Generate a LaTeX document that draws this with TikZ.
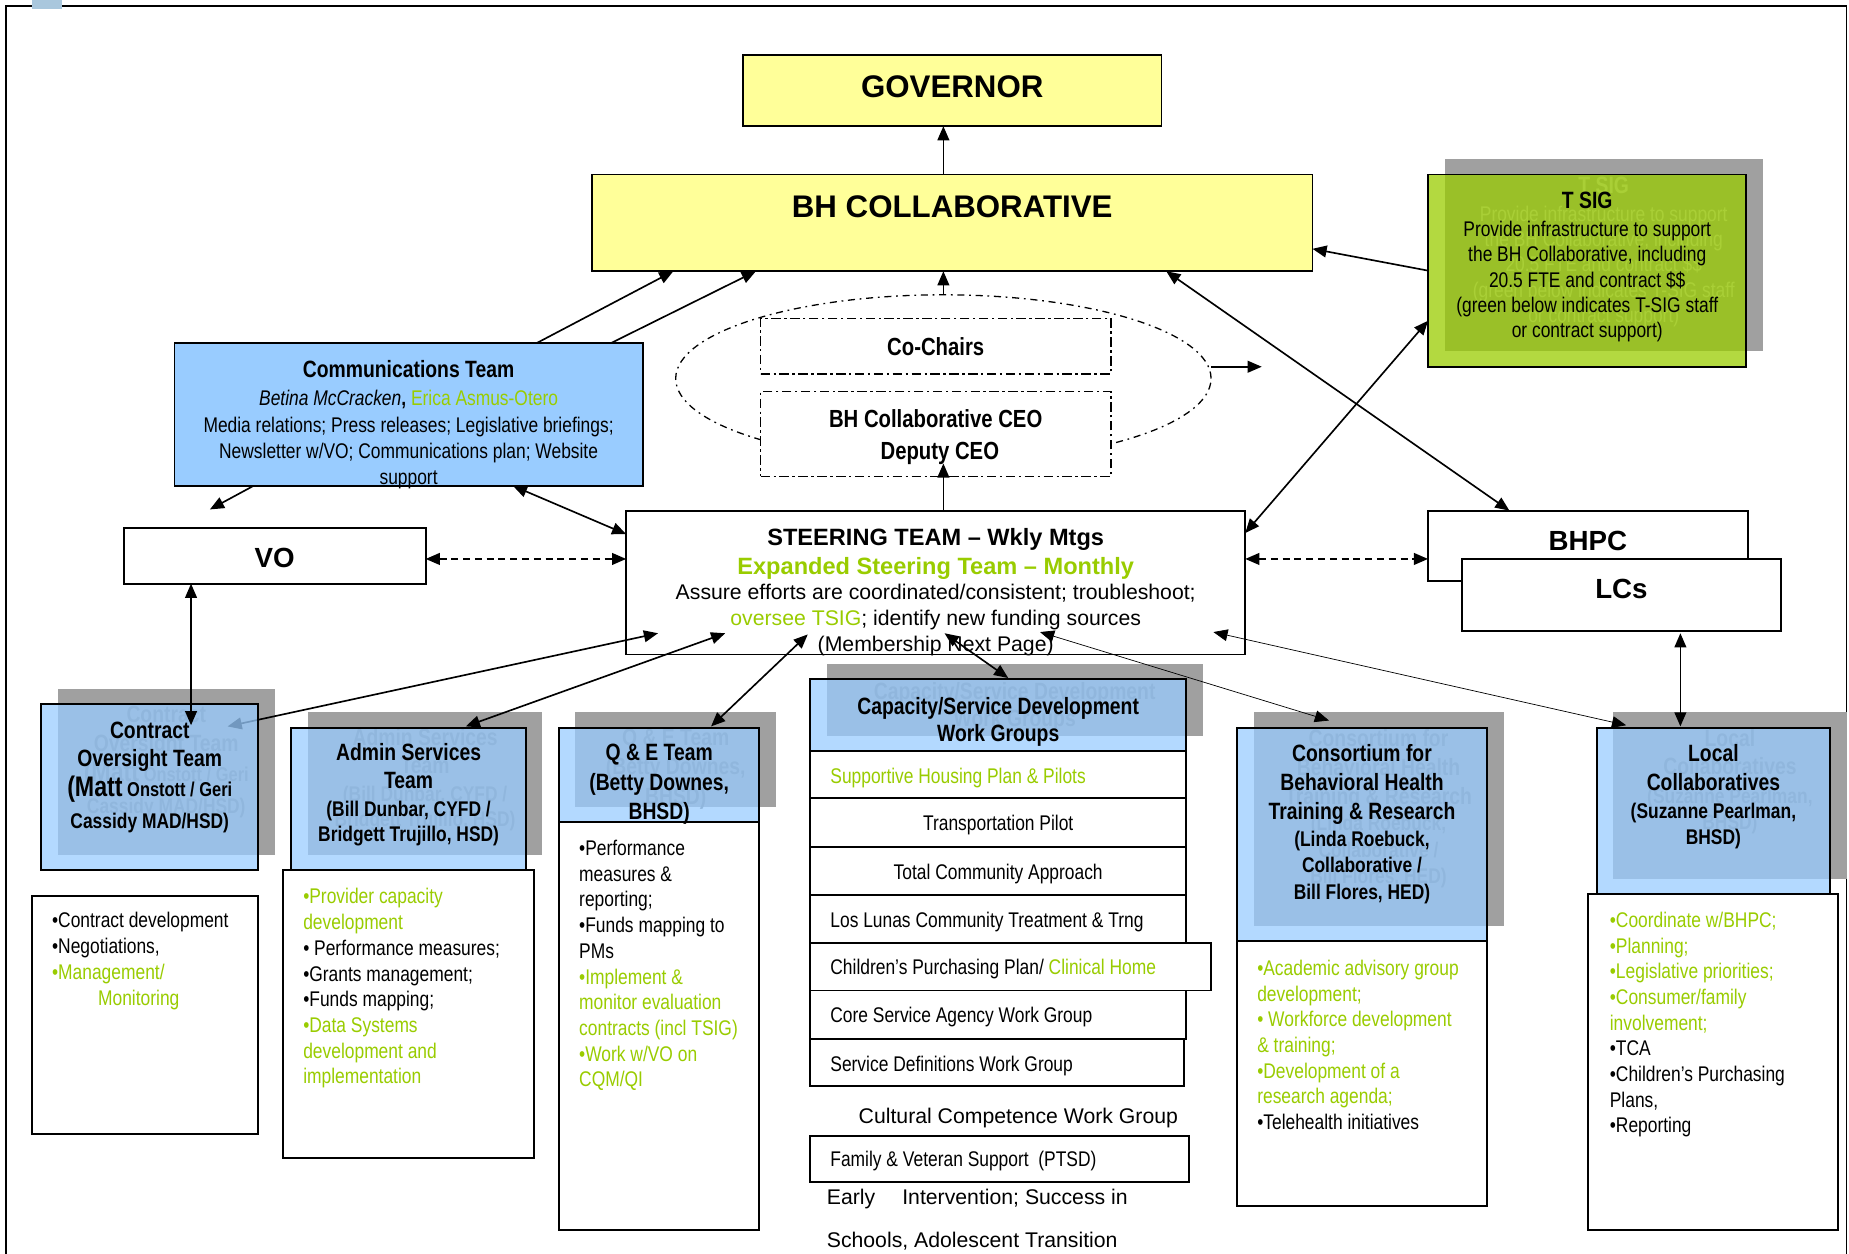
\documentclass[tikz,border=0pt]{standalone}
\usepackage{fontspec}
\setmainfont{Liberation Sans}
\newfontfamily\nar{Liberation Sans}[FakeStretch=0.82]
\usetikzlibrary{arrows.meta,shapes.geometric}
\definecolor{yel}{HTML}{FFFF99}
\definecolor{blu}{HTML}{99CCFF}
\definecolor{grn}{HTML}{99CC00}
\definecolor{shg}{HTML}{A0A0A0}
\definecolor{ghostA}{HTML}{787878}
\definecolor{ghostG}{HTML}{DADADA}
\definecolor{sqc}{HTML}{A9C7DD}
\newcommand\grcol{grn}
\newcommand\GRN[1]{\textcolor{\grcol}{#1}}
\newcommand\Lines[6]{\foreach \ltext [count=\lnum from 0] in {#6} \node[#1] (#2\lnum) at (#3,{#4+#5*\lnum}) {\ltext};}
\tikzset{
  nt/.style={font=\nar\fontsize{18}{21.6}\selectfont, inner sep=0, anchor=base},
  ntl/.style={nt, anchor=base west},
  hb/.style={font=\nar\bfseries\fontsize{20}{24}\selectfont, inner sep=0, anchor=base},
  pb/.style={font=\nar\bfseries\fontsize{18}{21.6}\selectfont, inner sep=0, anchor=base},
  cb/.style={font=\nar\bfseries\fontsize{21}{25}\selectfont, inner sep=0, anchor=base},
  ar/.style={font=\fontsize{18}{21.6}\selectfont, inner sep=0, anchor=base},
  arl/.style={ar, anchor=base west},
  arb/.style={font=\bfseries\fontsize{20}{24}\selectfont, inner sep=0, anchor=base},
  bigt/.style={font=\bfseries\fontsize{26.5}{30}\selectfont, inner sep=0, anchor=base},
  midt/.style={font=\bfseries\fontsize{23.5}{28}\selectfont, inner sep=0, anchor=base},
  box/.style={draw, line width=1.6pt, inner sep=0, outer sep=0, anchor=north west},
  shbox/.style={fill=shg, inner sep=0, outer sep=0, anchor=north west},
  dashdot/.style={dash pattern=on 8pt off 3pt on 2pt off 3pt},
  ddot/.style={dash pattern=on 6pt off 4pt on 1.5pt off 4pt},
  arr/.style={-{Triangle[length=12pt,width=10pt]}, line width=1.4pt},
  darr/.style={{Triangle[length=12pt,width=10pt]}-{Triangle[length=12pt,width=10pt]}, line width=1.4pt},
  tdarr/.style={{Triangle[length=12pt,width=10pt]}-{Triangle[length=12pt,width=10pt]}, line width=0.6pt},
  ddarr/.style={darr, dash pattern=on 6pt off 4pt},
}
\newcommand\txtTsig{%
  \node[hb] (ts0) at (1346,177) {T SIG};
  \Lines{nt}{tsl}{1346}{200.5}{21.5}{{Provide infrastructure to support},{the BH Collaborative, including},{20.5 FTE and contract \$\$},{(green below indicates T-SIG staff},{or contract support)}}
}
\newcommand\txtCot{%
  \node[hb] (ct0) at (127,626) {Contract};
  \node[hb] (ct1) at (127,650) {Oversight Team};
  \node[pb] (ct2) at (127,675.5) {{\fontsize{24}{26}\selectfont(Matt}\fontsize{17}{20}\selectfont\ Onstott / Geri};
  \node[pb] (ct3) at (127,702.5) {Cassidy MAD/HSD)};
}
\newcommand\txtAdm{%
  \node[hb] (ad0) at (346.5,645) {Admin Services};
  \node[hb] (ad1) at (346.5,669) {Team};
  \node[pb] (ad2) at (346.5,692.5) {(Bill Dunbar, CYFD /};
  \node[pb] (ad3) at (346.5,713.5) {Bridgett Trujillo, HSD)};
}
\newcommand\txtQe{%
  \Lines{hb}{qt}{559}{645}{25}{{Q \& E Team},{(Betty Downes,},{BHSD)}}
}
\newcommand\txtCap{%
  \Lines{hb}{cpt}{846.5}{606}{23}{{Capacity/Service Development},{Work Groups}}
}
\newcommand\txtCons{%
  \Lines{hb}{cst}{1155}{646}{24.5}{{Consortium for},{Behavioral Health},{Training \& Research}}
  \Lines{pb}{csq}{1155}{717.5}{22.5}{{(Linda Roebuck,},{Collaborative /},{Bill Flores, HED)}}
}
\newcommand\txtLoc{%
  \Lines{hb}{lct}{1453}{646}{24}{{Local},{Collaboratives}}
  \Lines{pb}{lcq}{1453}{694.5}{22}{{(Suzanne Pearlman,},{BHSD)}}
}
\begin{document}
\begin{tikzpicture}[x=1pt,y=-1pt]
\useasboundingbox (0,0) rectangle (1568,1063.4);
\draw[line width=1.2pt] (5,1063.4) -- (5,5) -- (1566,5) -- (1566,1063.4);
\fill[sqc] (27,0) rectangle (53,8);

% ellipse behind the inner boxes
\node[ellipse, draw, ddot, line width=1.1pt, minimum width=454pt, minimum height=142pt, inner sep=0, outer sep=0] (ell) at (800,321) {};

% plain boxes
\node[box, fill=yel, minimum width=355pt, minimum height=60pt] (gov) at (630,47) {};
\node[box, fill=yel, minimum width=611pt, minimum height=82pt] (bhc) at (502,148) {};
\node[box, fill=blu, minimum width=397pt, minimum height=121pt] (comm) at (148,291) {};
\node[box, fill=white, minimum width=256pt, minimum height=47pt] (vo) at (105,448) {};
\node[box, fill=white, minimum width=525pt, minimum height=122pt] (st) at (531,433) {};
\node[box, fill=white, minimum width=271pt, minimum height=60pt] (bhpc) at (1211,433) {};
\node[box, fill=white, minimum width=270pt, minimum height=61pt] (lcs) at (1240,474) {};
\node[box, fill=white, dashdot, line width=1.3pt, minimum width=297pt, minimum height=47pt] (cochair) at (645,270) {};
\node[box, fill=white, dashdot, line width=1.3pt, minimum width=297pt, minimum height=72pt] (ceo) at (645,332) {};

% shadows
\node[shbox, minimum width=270pt, minimum height=163pt] (tsig-sh) at (1225,135) {};
\node[shbox, minimum width=184pt, minimum height=141pt] (cot-sh) at (49,584) {};
\node[shbox, minimum width=199pt, minimum height=121pt] (adm-sh) at (261,604) {};
\node[shbox, minimum width=170pt, minimum height=80pt] (qe-sh) at (488,604) {};
\node[shbox, minimum width=319pt, minimum height=61pt] (cap-sh) at (701,563) {};
\node[shbox, minimum width=212pt, minimum height=181pt] (cons-sh) at (1063,604) {};
\node[shbox, minimum width=198pt, minimum height=141pt] (loc-sh) at (1368,604) {};
\begin{scope}[shift={(14,-13)}, name prefix=g-, every node/.append style={text=ghostA}]
  \renewcommand\grcol{ghostA}
  \txtCot \txtAdm \txtQe \txtCap \txtCons \txtLoc
\end{scope}
\begin{scope}[shift={(14,-13)}, name prefix=g-, every node/.append style={text=ghostG}]
  \txtTsig
\end{scope}

% connector partly under the translucent box
\draw[darr] ([xshift=-40pt,yshift=-32pt]cot-sh.north east) -- ([xshift=27pt,yshift=18pt]st.south west);

% translucent boxes
\node[box, fill=grn, fill opacity=0.75, minimum width=270pt, minimum height=163pt] (tsig) at (1211,148) {};
\node[box, fill=blu, fill opacity=0.75, minimum width=184pt, minimum height=141pt] (cot) at (35,597) {};
\node[box, fill=blu, fill opacity=0.75, minimum width=199pt, minimum height=121pt] (adm) at (247,617) {};
\node[box, fill=blu, fill opacity=0.75, minimum width=170pt, minimum height=80pt] (qe) at (474,617) {};
\node[box, fill=blu, fill opacity=0.75, minimum width=319pt, minimum height=61pt] (cap) at (687,576) {};
\node[box, fill=blu, fill opacity=0.75, minimum width=212pt, minimum height=181pt] (cons) at (1049,617) {};
\node[box, fill=blu, fill opacity=0.75, minimum width=198pt, minimum height=141pt] (loc) at (1354,617) {};

% list boxes
\node[box, fill=white, minimum width=192pt, minimum height=202pt] (cotl) at (27,760) {};
\node[box, fill=white, minimum width=213pt, minimum height=244pt] (adml) at (240,738) {};
\node[box, fill=white, minimum width=170pt, minimum height=346pt] (qel) at (474,697) {};
\node[box, fill=white, minimum width=212pt, minimum height=225pt] (consl) at (1049,798) {};
\node[box, fill=white, minimum width=212pt, minimum height=285pt] (locl) at (1347,758) {};
\node[box, fill=white, minimum width=319pt, minimum height=40pt] (r1) at (687,637) {};
\node[box, fill=white, minimum width=319pt, minimum height=41pt] (r2) at (687,677) {};
\node[box, fill=white, minimum width=319pt, minimum height=41pt] (r3) at (687,718) {};
\node[box, fill=white, minimum width=319pt, minimum height=41pt] (r4) at (687,759) {};
\node[box, fill=white, minimum width=340pt, minimum height=40pt] (r5) at (687,800) {};
\node[box, fill=white, minimum width=319pt, minimum height=41pt] (r6) at (687,840) {};
\node[box, fill=white, minimum width=317pt, minimum height=40pt] (r7) at (687,881) {};
\node[box, fill=white, minimum width=321pt, minimum height=39pt] (r8) at (687,963) {};

% texts
\node[bigt] (govt) at (807.5,82.5) {GOVERNOR};
\node[bigt] (bhct) at (807.5,184.5) {BH COLLABORATIVE};
\node[midt] (vot) at (233,481.5) {VO};
\node[midt] (bhpct) at (1346.5,466.5) {BHPC};
\node[midt] (lcst) at (1375,507.5) {LCs};
\node[cb] (cocht) at (793.5,301.5) {Co-Chairs};
\node[cb] (ceot1) at (793.5,362.5) {BH Collaborative CEO};
\node[cb] (ceot2) at (797,389.5) {Deputy CEO};

\node[hb] (cmt0) at (346.5,320) {Communications Team};
\node[nt] (cmt1) at (346.5,343.5) {{\itshape Betina McCracken}{\bfseries,} \GRN{Erica Asmus-Otero}};
\Lines{nt}{cml}{346.5}{366.5}{22}{{Media relations; Press releases; Legislative briefings;},{Newsletter w/VO; Communications plan; Website},{support}}

\node[arb] (stt0) at (793.5,463) {STEERING TEAM – Wkly Mtgs};
\node[arb, text=grn] (stt1) at (793.5,487) {Expanded Steering Team – Monthly};
\node[ar] (stt2) at (793.5,508.5) {Assure efforts are coordinated/consistent; troubleshoot;};
\node[ar] (stt3) at (793.5,530.5) {\GRN{oversee TSIG}; identify new funding sources};
\node[ar] (stt4) at (793.5,552.5) {(Membership Next Page)};

\txtTsig \txtCot \txtAdm \txtQe \txtCap \txtCons \txtLoc

\Lines{ntl}{cotb}{44}{786.5}{22}{{•Contract development},{•Negotiations,},{\GRN{•Management/}}}
\node[ntl] (cotb3) at (83,852.5) {\GRN{Monitoring}};
\Lines{ntl}{admb}{257}{766.5}{21.8}{{\GRN{•Provider capacity}},{\GRN{development}},{• Performance measures;},{•Grants management;},{•Funds mapping;},{\GRN{•Data Systems}},{\GRN{development and}},{\GRN{implementation}}}
\Lines{ntl}{qeb}{491}{725.5}{21.8}{{•Performance},{measures \&},{reporting;},{•Funds mapping to},{PMs},{\GRN{•Implement \&}},{\GRN{monitor evaluation}},{\GRN{contracts (incl TSIG)}},{\GRN{•Work w/VO on}},{\GRN{CQM/QI}}}
\Lines{ntl}{csb}{1066}{827.5}{21.67}{{\GRN{•Academic advisory group}},{\GRN{development;}},{\GRN{• Workforce development}},{\GRN{\& training;}},{\GRN{•Development of a}},{\GRN{research agenda;}},{•Telehealth initiatives}}
\Lines{ntl}{lcb}{1365}{786.5}{21.75}{{\GRN{•Coordinate w/BHPC;}},{\GRN{•Planning;}},{\GRN{•Legislative priorities;}},{\GRN{•Consumer/family}},{\GRN{involvement;}},{•TCA},{•Children’s Purchasing},{Plans,},{•Reporting}}

\node[ntl] (r1t) at (704,664.5) {\GRN{Supportive Housing Plan \& Pilots}};
\node[nt] (r2t) at (846.5,704.5) {Transportation Pilot};
\node[nt] (r3t) at (846.5,745.5) {Total Community Approach};
\node[ntl] (r4t) at (704,786.5) {Los Lunas Community Treatment \& Trng};
\node[ntl] (r5t) at (704,826.5) {Children’s Purchasing Plan/ \GRN{Clinical Home}};
\node[ntl] (r6t) at (704,867.5) {Core Service Agency Work Group};
\node[ntl] (r7t) at (704,908.5) {Service Definitions Work Group};
\node[arl] (cct) at (728,952.5) {Cultural Competence Work Group};
\node[ntl] (r8t) at (704,989.5) {Family \& Veteran Support\ \ (PTSD)};
\node[arl] (eit) at (701,1021.5) {Early\hspace{23pt}Intervention; Success in};
\node[arl] (sct) at (701,1057.5) {Schools, Adolescent Transition};

% connectors
\draw[arr] ([xshift=-7.5pt]bhc.north) -- ([xshift=-7.5pt]gov.south);
\draw[arr] ([xshift=307pt]comm.north west) -- ([xshift=69pt]bhc.south west);
\draw[arr] ([xshift=370pt]comm.north west) -- ([xshift=139pt]bhc.south west);
\coordinate (cfree) at (178,432);
\draw[arr] ([xshift=67pt]comm.south west) -- (cfree);
\draw[darr] ([xshift=287pt]comm.south west) -- ([yshift=41pt]st.west);
\draw[arr] (ell.north) -- ([xshift=-7.5pt]bhc.south);
\coordinate (efree) at (1070,311);
\draw[arr] ([yshift=10pt]ell.east) -- (efree);
\draw[arr] ([xshift=6.5pt]st.north) -- ([xshift=6.5pt,yshift=11pt]ceo.south);
\draw[ddarr] ([yshift=-2.5pt]vo.east) -- ([yshift=20pt]st.west);
\draw[ddarr] ([yshift=20pt]st.east) -- ([yshift=-11pt]bhpc.west);
\draw[darr] ([xshift=-124pt]bhc.south east) -- ([xshift=69pt]bhpc.north west);
\draw[arr] (tsig.west) -- ([yshift=-22pt]bhc.east);
\draw[darr] ([yshift=-42.5pt]tsig.west) -- ([yshift=-19pt]st.north east);
\draw[darr] ([xshift=57pt]vo.south west) -- ([xshift=127pt,yshift=-18pt]cot.north west);
\draw[darr] ([xshift=148pt,yshift=1pt]adm.north west) -- ([xshift=84pt,yshift=18pt]st.south west);
\draw[darr] ([xshift=129pt,yshift=1pt]qe.north west) -- ([xshift=154pt,yshift=17pt]st.south west);
\draw[darr] ([xshift=168pt,yshift=1pt]cap.north west) -- ([xshift=270pt,yshift=18pt]st.south west);
\draw[tdarr] ([xshift=78pt,yshift=6pt]cons.north west) -- ([xshift=351pt,yshift=19pt]st.south west);
\draw[tdarr] ([xshift=25pt,yshift=2pt]loc.north west) -- ([xshift=-27pt,yshift=19pt]st.south east);
\draw[darr] ([xshift=185pt,yshift=-2pt]lcs.south west) -- ([xshift=71pt,yshift=1pt]loc.north west);
\end{tikzpicture}
\end{document}
